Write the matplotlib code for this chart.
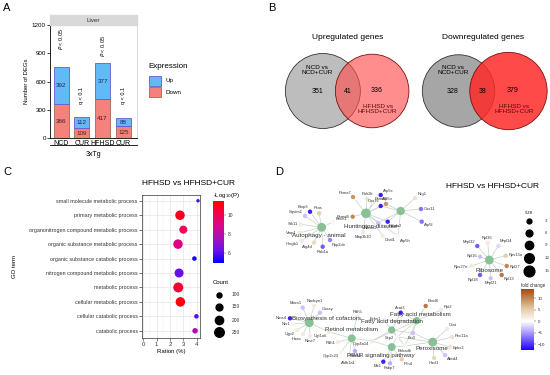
import numpy as np
import matplotlib
matplotlib.use('Agg')
import matplotlib.pyplot as plt
from matplotlib.patches import Circle, Rectangle
from matplotlib.lines import Line2D
from matplotlib.colors import LinearSegmentedColormap, Normalize
from matplotlib.cm import ScalarMappable

plt.rcParams['font.family'] = ['Liberation Sans', 'DejaVu Sans']

# ---------------- data ----------------
# A: number of DEGs
groups = ['NCD', 'CUR', 'HFHSD', 'CUR']
up_counts = [392, 112, 377, 88]
down_counts = [366, 109, 417, 125]
sig_labels = [r'$\it{P}$ < 0.05', 'q < 0.1', r'$\it{P}$ < 0.05', 'q < 0.1']
sig_y = [930, 360, 860, 360]

# B: venn counts
venn_titles = ['Upregulated genes', 'Downregulated genes']
only_ncd = [351, 328]
shared = [41, 38]
only_hfhsd = [336, 379]

# C: GO enrichment
go_terms = ['small molecule metabolic process', 'primary metabolic process',
            'organonitrogen compound metabolic process',
            'organic substance metabolic process',
            'organic substance catabolic process',
            'nitrogen compound metabolic process', 'metabolic process',
            'cellular metabolic process', 'cellular catabolic process',
            'catabolic process']
go_ratio = [4.1, 2.75, 3.0, 2.6, 3.83, 2.68, 2.62, 2.78, 3.98, 3.88]
go_count = [70, 250, 190, 250, 90, 228, 270, 250, 90, 112]
go_logp = [5.8, 11.0, 9.9, 9.0, 5.2, 6.2, 10.6, 11.3, 6.0, 7.6]

# D: gene-concept network
hub_names = ['Autophagy - animal', 'Huntington disease', '', 'Ribosome',
             'Biosynthesis of cofactors', 'Retinol metabolism',
             'PPAR signaling pathway', 'Fatty acid degradation',
             'Fatty acid metabolism', 'Peroxisome']
hub_size = [10, 12, 9, 10, 10, 8, 8, 7, 7, 10]

gene_names = ['Bnip3', 'Sqstm1', 'Rras', 'Stk11', 'Vmp1', 'Hmgb1', 'Atg4d',
              'Rab1a', 'Ppp2cb', 'Becn1',
              'Psma7', 'Polr2k', 'Atp5e', 'Psmd4', 'Psmd3', 'Atp5o', 'Cox7c',
              'Map3k10', 'Dnal1', 'Ndufs1', 'Ndufa2', 'Atp5h',
              'Nrg1', 'Cox11', 'Atp5l',
              'Rpl36', 'Mrpl32', 'Mrpl14', 'Rps15a', 'Rpl16', 'Rpl27',
              'Rps27rt', 'Rpl13', 'Rpl18', 'Mrpl21',
              'Mocs1', 'Nadsyn1', 'Coasy', 'Nme4', 'Nfs1', 'Ugp2', 'Haao',
              'Nme7', 'Ugt1a6',
              'Rdh5', 'Rdh1', 'Rdh10', 'Cyp2c23', 'Aldh1a1', 'Cyp4a14',
              'Me1', 'Fabp7', 'Plin4', 'Ehhadh', 'Scp2',
              'Echs1', 'Acat3', 'Eci3', 'Elovl6', 'Ppt2',
              'Crat', 'Pex11a', 'Ephx2', 'Abcd4', 'Hacl1']
gene_fc = [-11, -3, 5, 2, 2, 2, 4, -8, -6, 1,
           9, 3, -11, 10, 2, 9, -11, 2, 2, -3, -11, 1,
           3, -7, -7,
           2, -8, -2, 5, -3, 10, 2, 11, -8, -3,
           -3, 2, -3, -11, 1, 2, 2, 2, 2,
           2, 2, -4, 1, 1, 2,
           -11, -4, 5, 1, 1,
           1, -11, -3, 11, 2,
           2, 3, 3, -3, 4]
gene_hubs = [[0]] * 10 + [[1]] * 5 + [[1, 2]] * 2 + [[1]] * 2 + [[1, 2]] * 3 \
    + [[2]] * 3 + [[3]] * 10 + [[4]] * 8 + [[4, 5]] \
    + [[5]] * 5 + [[5, 6, 7, 8]] + [[6]] * 3 + [[6, 7, 8, 9]] * 2 \
    + [[7, 8]] * 2 + [[7, 8, 9]] + [[8]] * 2 + [[9]] * 5

# network layout (pixel space of panel D)
hub_xy = [(321.7, 227.3), (366, 213.3), (400.7, 211), (489.3, 260),
          (309.3, 322.7), (351.7, 338.3), (391.7, 347), (391.7, 330),
          (416.7, 320.7), (432.7, 342)]
hub_label_off = [(-3, 8.5), (5, 13.5), (0, 0), (0, 10), (17, -4), (0, -9),
                 (-11, 8), (0, -8), (4, -6), (-1, 6.5)]
gene_xy = [(310, 211.7), (305, 216), (319, 213.3), (300.7, 224.3), (300, 232.7),
           (301.7, 240.7), (314, 242.7), (322.7, 246.7), (330, 240), (333, 222),
           (353, 197), (367, 199), (380.7, 195), (352.7, 216.7), (373, 203),
           (386, 204), (380.7, 206), (363, 232), (383, 236), (378, 223),
           (387.7, 221.7), (398, 236),
           (415, 198), (421, 209), (421.7, 221.7),
           (487.7, 242.7), (477.3, 246), (498.3, 246), (505.7, 255.7),
           (480, 256.7), (506.7, 266), (471, 266), (501.7, 275), (480, 275),
           (490.7, 278.3),
           (302.7, 307.7), (314, 306), (320, 312.7), (290, 318.3), (293, 324),
           (297, 330), (303, 334), (310, 336), (329, 332),
           (357, 317), (338, 342), (355, 351), (341, 352), (349, 358),
           (372, 341),
           (383.3, 361.7), (390, 363.3), (401.7, 359.3), (405, 346), (397, 337),
           (384, 320), (400.7, 312.7), (413, 333), (425.7, 306), (441, 310),
           (447, 329), (452, 337), (450, 347), (445, 355), (434, 358)]

W, H = 550, 375


def rect(x0, y0, x1, y1):
    return [x0 / W, 1 - y1 / H, (x1 - x0) / W, (y1 - y0) / H]


def fx(x):
    return x / W


def fy(y):
    return 1 - y / H


fig = plt.figure(figsize=(5.5, 3.75), dpi=100)

for lab, (x, y) in zip('ABCD', [(7, 8), (272, 8), (7, 172), (279, 172)]):
    fig.text(fx(x), fy(y), lab, fontsize=8, va='center', ha='center')

# ---------------- A ----------------
axA = fig.add_axes(rect(50, 25, 136.7, 138.3))
xpos = np.arange(1, len(groups) + 1)
axA.bar(xpos, down_counts, width=0.72, color='#F4817C', edgecolor='#9C6B4E', lw=0.6)
axA.bar(xpos, up_counts, bottom=down_counts, width=0.72, color='#63B8F7',
        edgecolor='#6A5ACD', lw=0.6)
for i in range(len(groups)):
    axA.text(xpos[i], down_counts[i] / 2, str(down_counts[i]), ha='center',
             va='center', fontsize=4.5, color='#3a2020')
    axA.text(xpos[i], down_counts[i] + up_counts[i] / 2, str(up_counts[i]),
             ha='center', va='center', fontsize=4.5, color='#1a2a50')
    axA.text(xpos[i], sig_y[i], sig_labels[i], rotation=90, ha='center',
             va='bottom', fontsize=4)
axA.set_xlim(0.47, 4.64)
axA.set_ylim(0, 1200)
axA.set_yticks([0, 300, 600, 900, 1200])
axA.set_xticks(xpos)
axA.set_xticklabels(groups, fontsize=5)
axA.tick_params(axis='y', labelsize=4.5, length=2, width=0.5, pad=1)
axA.tick_params(axis='x', length=0, pad=1.5)
axA.set_ylabel('Number of DEGs', fontsize=4.3, labelpad=2)
axA.spines['top'].set_visible(False)
axA.spines['right'].set_color('#cccccc')
axA.spines['right'].set_linewidth(0.5)
axA.spines['left'].set_linewidth(0.6)
axA.spines['bottom'].set_linewidth(0.6)
axA.plot([0, 1], [-0.059, -0.059], transform=axA.transAxes, clip_on=False,
         color='black', lw=0.6)
fig.text(fx(93), fy(155), '3xTg', fontsize=5, ha='center', va='center')
fig.patches.append(Rectangle((fx(50), fy(25)), fx(86.7), 10 / H,
                             transform=fig.transFigure, color='#D9D9D9'))
fig.text(fx(93.3), fy(20), 'Liver', fontsize=4.5, ha='center', va='center',
         color='#333333')
# legend
fig.text(fx(148), fy(66.7), 'Expression', fontsize=5.8, va='center')
for lab, fc, ec, yy in [('Up', '#63B8F7', '#6A5ACD', 75.7),
                        ('Down', '#F4817C', '#9C6B4E', 87)]:
    fig.patches.append(Rectangle((fx(149), fy(yy + 10)), 12 / W, 10 / H,
                                 transform=fig.transFigure, facecolor=fc,
                                 edgecolor=ec, lw=0.6))
    fig.text(fx(165), fy(yy + 5), lab, fontsize=4.5, va='center')

# ---------------- B ----------------
axB = fig.add_axes(rect(270, 20, 550, 140))
axB.set_xlim(270, 550)
axB.set_ylim(140, 20)
axB.axis('off')
venn_cx = [347.5, 483.5]
venn_cy = 91
right_style = [('#FF5050', 0.65), ('#FF2A2A', 0.85)]
left_fill = ['#BDBDBD', '#A6A6A6']
k = 1.894
for v in range(2):
    r1 = k * np.sqrt(only_ncd[v] + shared[v])
    r2 = k * np.sqrt(only_hfhsd[v] + shared[v])
    d = r1 + r2 - 25
    c1 = venn_cx[v] - d / 2
    c2 = venn_cx[v] + d / 2
    axB.add_patch(Circle((c1, venn_cy), r1, facecolor=left_fill[v],
                         edgecolor='#333333', lw=0.6))
    col, al = right_style[v]
    axB.add_patch(Circle((c2, venn_cy), r2, facecolor=col, alpha=al,
                         edgecolor='none'))
    axB.add_patch(Circle((c2, venn_cy), r2, facecolor='none',
                         edgecolor='#7a1010', lw=0.6))
    axB.text(venn_cx[v], 38, venn_titles[v], fontsize=6, ha='center', va='center')
    axB.text(c1 - 5.5, 70, 'NCD vs\nNCD+CUR', fontsize=4.6, ha='center',
             va='center', linespacing=1.0)
    axB.text(c1 - 5.5, 91.5, str(only_ncd[v]), fontsize=5, ha='center', va='center')
    mid = ((c1 + r1) + (c2 - r2)) / 2
    axB.text(mid, 91.5, str(shared[v]), fontsize=5, ha='center', va='center')
    axB.text(c2 + 4, 91, str(only_hfhsd[v]), fontsize=5, ha='center', va='center')
    axB.text(c2 + 5.5, 109, 'HFHSD vs\nHFHSD+CUR', fontsize=4.6, ha='center',
             va='center', color='#5a0a0a', linespacing=1.0)

# ---------------- C ----------------
axC = fig.add_axes(rect(142, 195, 200, 338))
cmap_p = LinearSegmentedColormap.from_list(
    'p', ['#0000FF', '#6A10E8', '#A810B8', '#D8088A', '#F5004A', '#FF0000'])
norm_p = Normalize(4.9, 11.5)
s_count = [13 + (c - 100) * 34 / 150 for c in go_count]
yy = np.arange(len(go_terms))
axC.scatter(go_ratio, yy, s=s_count, c=go_logp, cmap=cmap_p, norm=norm_p,
            zorder=3, linewidths=0)
axC.set_ylim(9.5, -0.4)
axC.set_xlim(-0.1, 4.25)
axC.set_yticks(yy)
axC.set_yticklabels(go_terms, fontsize=3.9, color='#333333')
axC.set_xticks([0, 1, 2, 3, 4])
axC.set_xticks([0.5, 1.5, 2.5, 3.5], minor=True)
axC.tick_params(axis='x', labelsize=4.3, length=2, width=0.4, pad=1, colors='#333333')
axC.tick_params(axis='y', length=2, width=0.4, pad=1)
axC.tick_params(which='minor', length=0)
axC.grid(True, which='major', color='#E5E5E5', lw=0.5)
axC.grid(True, which='minor', axis='x', color='#F0F0F0', lw=0.3)
axC.set_axisbelow(True)
for s in axC.spines.values():
    s.set_linewidth(0.5)
    s.set_color('#333333')
axC.set_xlabel('Ration (%)', fontsize=4.3, labelpad=1.5)
axC.set_ylabel('GO term', fontsize=4.3, labelpad=2)
axC.yaxis.set_label_coords(-2.15, 0.5)
fig.text(fx(142), fy(184), 'HFHSD vs HFHSD+CUR', fontsize=6, ha='left',
         va='center')
caxC = fig.add_axes(rect(213, 201, 224, 263))
cb = fig.colorbar(ScalarMappable(norm_p, cmap_p), cax=caxC)
cb.outline.set_visible(False)
cb.set_ticks([6, 8, 10])
caxC.tick_params(labelsize=3.5, length=1.5, width=0.3, pad=1, colors='#333333')
fig.text(fx(213), fy(195), '-Log$_{10}$(P)', fontsize=4.3, va='center')
fig.text(fx(213), fy(283), 'Count', fontsize=4.3, va='center')
for c, yv in zip([100, 150, 200, 250], [295, 307, 320, 332]):
    fig.add_artist(Line2D([fx(219)], [fy(yv)], marker='o', color='black',
                          markersize=np.sqrt(13 + (c - 100) * 34 / 150),
                          transform=fig.transFigure, lw=0))
    fig.text(fx(232), fy(yv), str(c), fontsize=3.5, va='center', color='#333333')

# ---------------- D ----------------
axD = fig.add_axes(rect(280, 185, 550, 375))
axD.set_xlim(280, 550)
axD.set_ylim(375, 185)
axD.axis('off')
cmap_fc = LinearSegmentedColormap.from_list(
    'fc', [(0, '#2200FF'), (0.47, '#FFFFFF'), (0.68, '#E3CBA6'), (1, '#A54B12')])
norm_fc = Normalize(-12.5, 14)
for gi, hubs in enumerate(gene_hubs):
    gx, gy = gene_xy[gi]
    for h in hubs:
        hx, hy = hub_xy[h]
        axD.plot([gx, hx], [gy, hy], color='#C4D2C4', lw=0.5, zorder=1)
axD.scatter([p[0] for p in gene_xy], [p[1] for p in gene_xy], s=10,
            c=gene_fc, cmap=cmap_fc, norm=norm_fc, zorder=2, linewidths=0)
axD.scatter([p[0] for p in hub_xy], [p[1] for p in hub_xy],
            s=[4 * v for v in hub_size], color='#88C097', zorder=3, linewidths=0)
for gi, name in enumerate(gene_names):
    gx, gy = gene_xy[gi]
    hx = np.mean([hub_xy[h][0] for h in gene_hubs[gi]])
    hy = np.mean([hub_xy[h][1] for h in gene_hubs[gi]])
    dx, dy = gx - hx, gy - hy
    n = np.hypot(dx, dy) + 1e-9
    dx, dy = dx / n, dy / n
    ha = 'left' if dx > 0.35 else ('right' if dx < -0.35 else 'center')
    va = 'top' if dy > 0.35 else ('bottom' if dy < -0.35 else 'center')
    axD.text(gx + dx * 3, gy + dy * 3, name, fontsize=3, ha=ha, va=va,
             color='#333333', zorder=4)
for hi, name in enumerate(hub_names):
    if name:
        hx, hy = hub_xy[hi]
        ox, oy = hub_label_off[hi]
        axD.text(hx + ox, hy + oy, name, fontsize=4.5, ha='center',
                 va='center', color='#333333', zorder=5)
fig.text(fx(492), fy(187), 'HFHSD vs HFHSD+CUR', fontsize=6, ha='center',
         va='center')
fig.text(fx(525), fy(212), 'size', fontsize=3.3, va='center', color='#333333')
for sv, yv in zip([3, 6, 9, 12, 15], [221, 233, 245, 258, 271]):
    fig.add_artist(Line2D([fx(528.5)], [fy(yv)], marker='o', color='black',
                          markersize=np.sqrt(4 * sv), transform=fig.transFigure,
                          lw=0))
    fig.text(fx(545), fy(yv), str(sv), fontsize=3.2, va='center', color='#333333')
fig.text(fx(521), fy(285), 'fold change', fontsize=3.3, va='center',
         color='#333333')
caxD = fig.add_axes(rect(520.7, 289.3, 534, 350))
cb2 = fig.colorbar(ScalarMappable(norm_fc, cmap_fc), cax=caxD)
cb2.outline.set_visible(False)
cb2.set_ticks([-10, -5, 0, 5, 10])
caxD.tick_params(labelsize=3.2, length=1.5, width=0.3, pad=1, colors='#333333')

fig.savefig('out.png', dpi=100)
